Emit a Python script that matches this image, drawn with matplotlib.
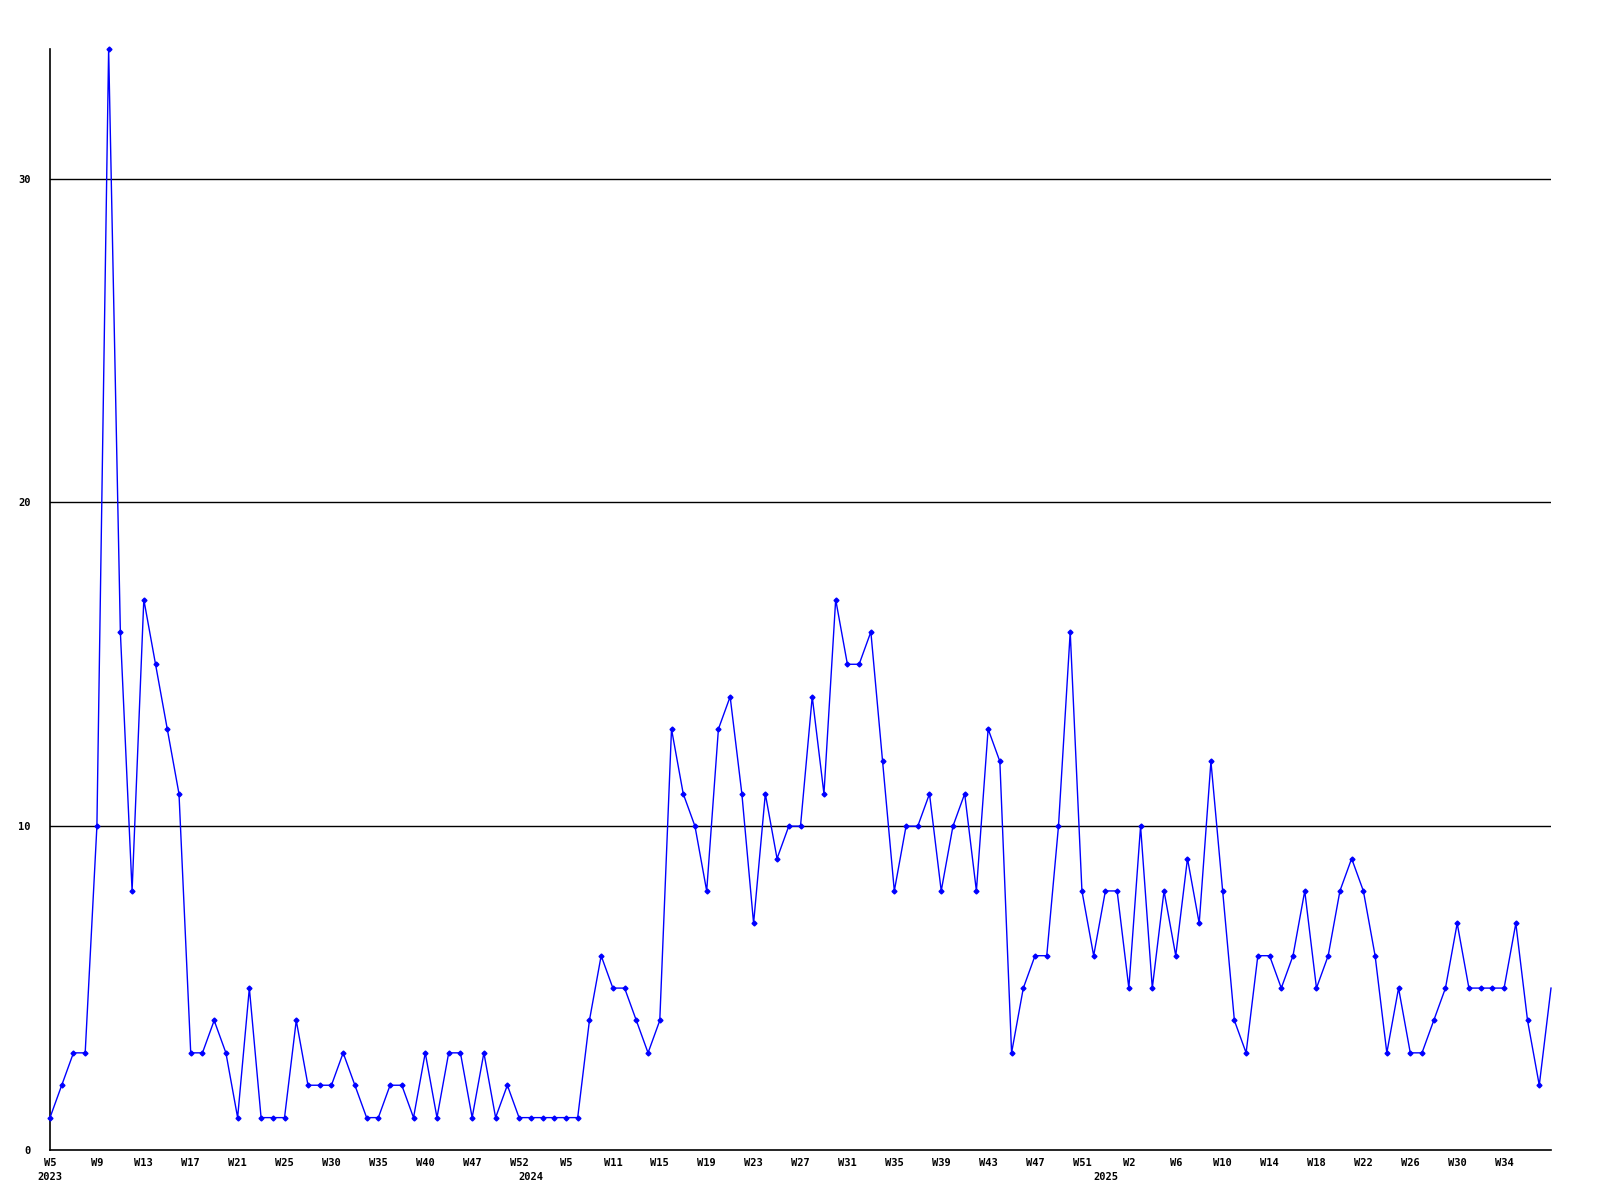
import matplotlib
matplotlib.use("Agg")
import matplotlib.pyplot as plt
import matplotlib.transforms as mtransforms

values = [1, 2, 3, 3, 10, 34, 16, 8, 17, 15, 13, 11, 3, 3, 4, 3, 1, 5, 1, 1,
          1, 4, 2, 2, 2, 3, 2, 1, 1, 2, 2, 1, 3, 1, 3, 3, 1, 3, 1, 2,
          1, 1, 1, 1, 1, 1, 4, 6, 5, 5, 4, 3, 4, 13, 11, 10, 8, 13, 14, 11,
          7, 11, 9, 10, 10, 14, 11, 17, 15, 15, 16, 12, 8, 10, 10, 11, 8, 10, 11, 8,
          13, 12, 3, 5, 6, 6, 10, 16, 8, 6, 8, 8, 5, 10, 5, 8, 6, 9, 7, 12,
          8, 4, 3, 6, 6, 5, 6, 8, 5, 6, 8, 9, 8, 6, 3, 5, 3, 3, 4, 5,
          7, 5, 5, 5, 5, 7, 4, 2, 5]

week_labels = ["W5", "W9", "W13", "W17", "W21", "W25", "W30", "W35", "W40", "W47",
               "W52", "W5", "W11", "W15", "W19", "W23", "W27", "W31", "W35", "W39",
               "W43", "W47", "W51", "W2", "W6", "W10", "W14", "W18", "W22", "W26",
               "W30", "W34"]
label_step = 4

years = ["2023", "2024", "2025"]
year_index = [0, 41, 90]

y_ticks = [0, 10, 20, 30]

fig = plt.figure(figsize=(16, 12), dpi=100)
ax = fig.add_axes([50/1600, 1 - 1150/1200, (1551-50)/1600, (1150-49)/1200])

x = list(range(len(values)))
ax.set_xlim(0, len(values) - 1)
ax.set_ylim(0, max(values))

for yv in y_ticks[1:]:
    ax.axhline(yv, color="black", linewidth=1.0, zorder=1)

ax.plot(x, values, color="#0000ff", linewidth=1.0, marker="D", markersize=2.5,
        markevery=list(range(len(values) - 1)), zorder=3, clip_on=False)

for s in ["top", "right"]:
    ax.spines[s].set_visible(False)
for s in ["left", "bottom"]:
    ax.spines[s].set_color("black")
    ax.spines[s].set_linewidth(1.2)

font = dict(family="DejaVu Sans Mono", weight="bold", size=7.5)

ax.set_xticks([i * label_step for i in range(len(week_labels))])
ax.set_xticklabels(week_labels, **font)
ax.set_yticks(y_ticks)
ax.set_yticklabels([str(v) for v in y_ticks], **font)
ax.tick_params(axis="both", length=0)
ax.tick_params(axis="x", pad=6)
ax.tick_params(axis="y", pad=14)

trans = mtransforms.blended_transform_factory(ax.transData, ax.transAxes)
for yr, xi in zip(years, year_index):
    ax.text(xi, -27/1101, yr, transform=trans, ha="center", va="center", **font)

fig.savefig("out.png", dpi=100)
